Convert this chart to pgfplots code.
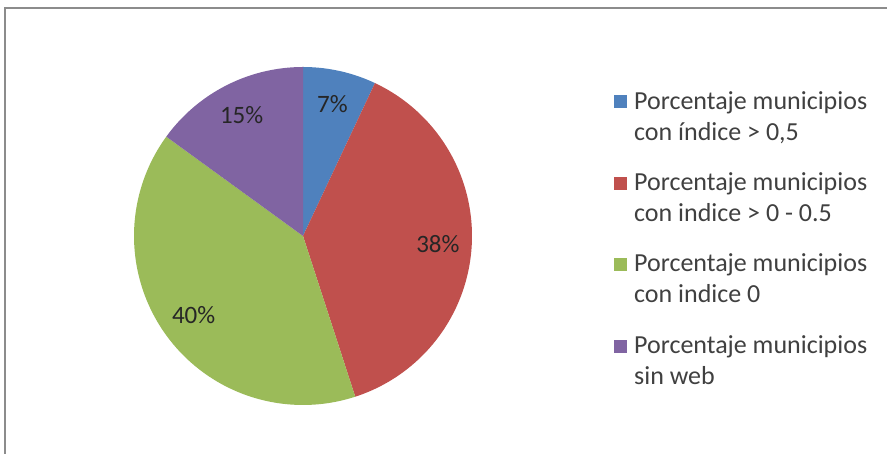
\documentclass[border=0pt]{standalone}
\usepackage{fontspec}
\setmainfont{Carlito}
\usepackage{pgfplots}
\usepackage{pgfplotstable}
\pgfplotsset{compat=1.18}

\definecolor{pieblue}{HTML}{4F81BD}
\definecolor{piered}{HTML}{C0504D}
\definecolor{piegreen}{HTML}{9BBB59}
\definecolor{piepurple}{HTML}{8064A2}
\definecolor{legtext}{HTML}{404040}
\definecolor{frame}{HTML}{8C8C8C}

% share of municipalities, in percent
\pgfplotstableread{
group value
a 7
b 38
c 40
d 15
}\piedata

\begin{document}
\begin{tikzpicture}[x=1pt,y=1pt]
\useasboundingbox (0,0) rectangle (887,454);
\begin{scope}
\clip (0,0) rectangle (887,454);
\draw[frame, line width=2pt] (5,-20) -- (5,446) -- (900,446);
\end{scope}

% centre and radius of the pie, in picture units
\def\cx{303}\def\cy{218}\def\r{169}
\pgfplotstablegetelem{0}{value}\of\piedata \let\va\pgfplotsretval
\pgfplotstablegetelem{1}{value}\of\piedata \let\vb\pgfplotsretval
\pgfplotstablegetelem{2}{value}\of\piedata \let\vc\pgfplotsretval
\pgfplotstablegetelem{3}{value}\of\piedata \let\vd\pgfplotsretval
% slices run clockwise from the top
\pgfmathsetmacro\aA{90}
\pgfmathsetmacro\aB{\aA-3.6*\va}
\pgfmathsetmacro\aC{\aB-3.6*\vb}
\pgfmathsetmacro\aD{\aC-3.6*\vc}
\pgfmathsetmacro\aE{\aD-3.6*\vd}

\begin{axis}[
  x=1pt, y=1pt,
  xmin=0, xmax=887, ymin=0, ymax=454,
  at={(0,0)}, anchor=origin,
  hide axis, clip=false,
  legend cell align=left,
  legend style={draw=none, fill=none, at={(611/887,1-88/454)}, anchor=north west,
    font=\fontsize{26}{31}\selectfont, text=legtext,
    nodes={align=left, inner sep=1pt}, row sep=29pt},
  legend image code/.code={\fill[#1] (0pt,8pt) rectangle (13pt,21pt); \path (19pt,14pt);},
]
\addplot[fill=pieblue, draw=none, domain=\aB:\aA, samples=40, variable=\t]
  ({\cx+\r*cos(\t)},{\cy+\r*sin(\t)}) -- (axis cs:\cx,\cy) -- cycle;
\addlegendentry{Porcentaje municipios\\con índice > 0,5}
\addplot[fill=piered, draw=none, domain=\aC:\aB, samples=120, variable=\t]
  ({\cx+\r*cos(\t)},{\cy+\r*sin(\t)}) -- (axis cs:\cx,\cy) -- cycle;
\addlegendentry{Porcentaje municipios\\con indice > 0 - 0.5}
\addplot[fill=piegreen, draw=none, domain=\aD:\aC, samples=120, variable=\t]
  ({\cx+\r*cos(\t)},{\cy+\r*sin(\t)}) -- (axis cs:\cx,\cy) -- cycle;
\addlegendentry{Porcentaje municipios\\con indice 0}
\addplot[fill=piepurple, draw=none, domain=\aE:\aD, samples=60, variable=\t]
  ({\cx+\r*cos(\t)},{\cy+\r*sin(\t)}) -- (axis cs:\cx,\cy) -- cycle;
\addlegendentry{Porcentaje municipios\\sin web}

% value labels at the middle of each slice
\pgfmathsetmacro\mA{(\aA+\aB)/2}
\pgfmathsetmacro\mB{(\aB+\aC)/2}
\pgfmathsetmacro\mC{(\aC+\aD)/2}
\pgfmathsetmacro\mD{(\aD+\aE)/2}
\tikzset{pielabel/.style={text=black!85, font=\fontsize{25}{30}\selectfont}}
\node[pielabel] at (axis cs:{\cx+0.8*\r*cos(\mA)},{\cy+0.8*\r*sin(\mA)}) {\va\%};
\node[pielabel] at (axis cs:{\cx+0.8*\r*cos(\mB)},{\cy+0.8*\r*sin(\mB)}) {\vb\%};
\node[pielabel] at (axis cs:{\cx+0.8*\r*cos(\mC)},{\cy+0.8*\r*sin(\mC)}) {\vc\%};
\node[pielabel] at (axis cs:{\cx+0.8*\r*cos(\mD)},{\cy+0.8*\r*sin(\mD)}) {\vd\%};
\end{axis}
\end{tikzpicture}
\end{document}
